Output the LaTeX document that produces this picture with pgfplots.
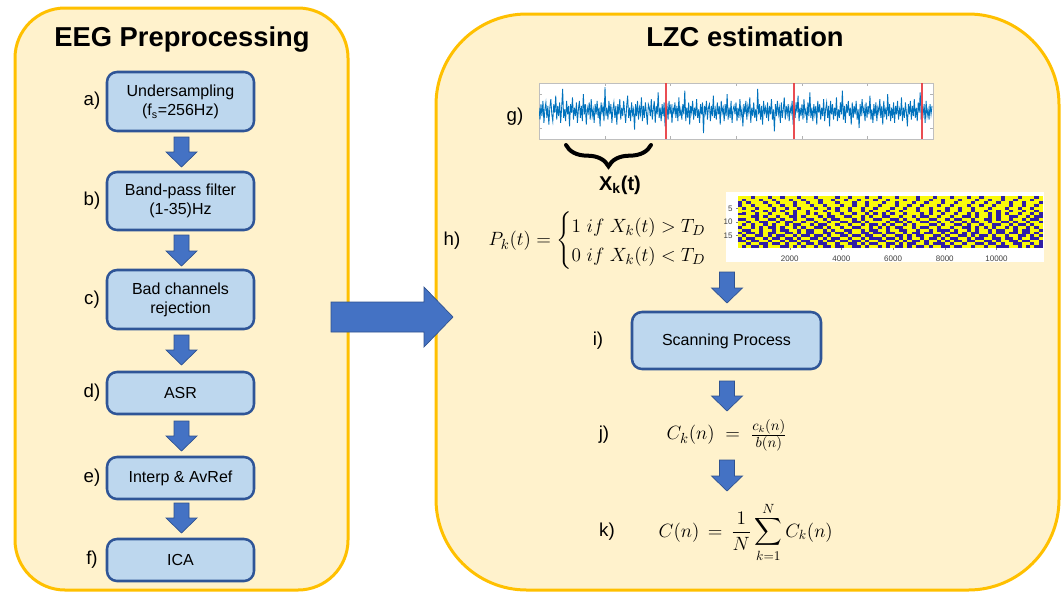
\documentclass[border=0pt]{standalone}
\usepackage{amsmath}
\usepackage[no-math]{fontspec}
\setmainfont{Liberation Sans}
\usepackage{pgfplots}
\pgfplotsset{compat=1.18}
\usetikzlibrary{decorations.pathreplacing}
\definecolor{panelfill}{RGB}{255,242,204}
\definecolor{paneldraw}{RGB}{255,192,0}
\definecolor{boxfill}{RGB}{189,215,238}
\definecolor{boxdraw}{RGB}{47,85,151}
\definecolor{arrowfill}{RGB}{68,114,196}
\definecolor{arrowdraw}{RGB}{47,82,143}
\definecolor{sigblue}{RGB}{0,114,189}
\definecolor{redline}{RGB}{232,58,64}
\pgfdeclareplotmark{cell}{\pgfpathrectangle{\pgfqpoint{-1.65pt}{-1.08pt}}{\pgfqpoint{3.3pt}{2.16pt}}\pgfusepathqfill}
\newcommand{\darrow}[3]{%
  \filldraw[fill=arrowfill, draw=arrowdraw, line width=0.5pt]
  ({#1-7.5},#2) -- ({#1+7.5},#2) -- ({#1+7.5},{#3-15}) -- ({#1+15.5},{#3-15}) --
  (#1,#3) -- ({#1-15.5},{#3-15}) -- ({#1-7.5},{#3-15}) -- cycle;}
\begin{document}
\begin{tikzpicture}
\begin{scope}[x=0.75pt,y=-0.75pt,
  box/.style={draw=boxdraw, line width=1.9pt, fill=boxfill, rounded corners=7.5pt},
  btxt/.style={font=\fontsize{12}{14.4}\selectfont, align=center},
  lbl/.style={font=\fontsize{14}{16}\selectfont},
  ttl/.style={font=\fontsize{20.5}{24}\selectfont\bfseries, anchor=base},
  mth/.style={font=\fontsize{14}{17}\selectfont}]
\path[use as bounding box] (0,0) rectangle (1064,594);
\fill[white] (0,0) rectangle (1064,594);
\coordinate (gpos) at (539,83);
\coordinate (hpos) at (738,196);
% panels
\draw[fill=panelfill, draw=paneldraw, line width=2.25pt, rounded corners=37.5pt] (15,8) rectangle (348,590);
\draw[fill=panelfill, draw=paneldraw, line width=2.25pt, rounded corners=68pt] (436,14) rectangle (1059,590);
\node[ttl] at (182,46) {EEG Preprocessing};
\node[ttl] at (745,46) {LZC estimation};
% left boxes
\draw[box] (107,72) rectangle (254,131);
\node[btxt] at (180.5,102) {Undersampling\\(f\textsubscript{s}=256Hz)};
\draw[box] (107,172) rectangle (254,230);
\node[btxt] at (180.5,201) {Band-pass filter\\(1-35)Hz};
\draw[box] (107,270) rectangle (254,329);
\node[btxt] at (180.5,300) {Bad channels\\rejection};
\draw[box] (107,372) rectangle (254,414);
\node[btxt] at (180.5,393) {ASR};
\draw[box] (107,457) rectangle (254,499);
\node[btxt] at (180.5,478) {Interp \& AvRef};
\draw[box] (107,539) rectangle (254,581);
\node[btxt] at (180.5,560) {ICA};
\node[lbl] at (92,101) {a)};
\node[lbl] at (92,201) {b)};
\node[lbl] at (92,300) {c)};
\node[lbl] at (92,393) {d)};
\node[lbl] at (92,478) {e)};
\node[lbl] at (92,560) {f)};
\darrow{181.5}{137}{167}
\darrow{181.5}{235}{266}
\darrow{181.5}{335}{365}
\darrow{181.5}{421}{451}
\darrow{181.5}{503}{533}
% big arrow
\filldraw[fill=arrowfill, draw=arrowdraw, line width=0.5pt]
  (331,302) -- (424,302) -- (424,287) -- (453,317) -- (424,347) -- (424,332) -- (331,332) -- cycle;
% right side
\node[lbl] at (515,117) {g)};
\draw[decorate, decoration={brace, amplitude=16pt}, line width=3pt, line cap=round] (651,145) -- (566,145);
\node[font=\fontsize{15}{17}\selectfont\bfseries] at (620,185) {X\textsubscript{k}(t)};
\node[lbl] at (452,241) {h)};
\node[mth, anchor=west, font=\fontsize{15}{18}\selectfont] at (484,241) {$P_k(t) = \begin{cases} 1\ if\ X_k(t) > T_D \\ 0\ if\ X_k(t) < T_D \end{cases}$};
\fill[white] (726,192) rectangle (1044,262);
\darrow{727}{272}{303}
\node[lbl] at (598,341) {i)};
\draw[box] (632,312) rectangle (821,369);
\node[btxt] at (726.5,341) {Scanning Process};
\darrow{727}{381}{411}
\node[lbl] at (604,435) {j)};
\node[mth, anchor=west, font=\fontsize{15}{18}\selectfont] at (662,435) {$C_k(n) \;=\; \frac{c_k(n)}{b(n)}$};
\darrow{727}{460}{491}
\node[lbl] at (607,532) {k)};
\node[mth, anchor=west] at (654,532) {$C(n) \,=\, \dfrac{1}{N}\displaystyle\sum_{k=1}^{N} C_k(n)$};
\end{scope}
\begin{axis}[at={(gpos)}, anchor=north west, width=295.5pt, height=42pt, scale only axis,
  xmin=0, xmax=6, ymin=-1.65, ymax=1.65, xtick={1,...,5}, ytick={-1,1},
  xticklabels={}, yticklabels={}, tick align=inside, major tick length=2.5pt,
  axis line style={gray!50, line width=0.6pt}, tick style={gray!60},
  axis background/.style={fill=white}]
\addplot[sigblue, line width=0.65pt] table[x expr=\coordindex*0.015, y index=0, header=false, row sep=\\] {
0.2\\-0.5\\0.4\\-0.3\\0.6\\-0.7\\0.1\\0.5\\-0.4\\0.3\\-0.8\\0.2\\0.7\\-0.2\\-0.6\\0.4\\-0.1\\0.9\\-0.5\\0.3\\
-0.3\\0.5\\-0.7\\0.2\\1.3\\-0.4\\0.1\\-0.6\\0.6\\-0.2\\0.3\\-0.9\\0.4\\-0.1\\0.8\\-0.5\\0.2\\-0.3\\0.5\\-0.7\\
0.1\\0.6\\-0.4\\0.3\\-0.6\\1.0\\-0.2\\0.4\\-0.8\\0.2\\-0.1\\0.5\\-0.5\\0.7\\-0.3\\0.1\\-0.7\\0.4\\-0.2\\0.6\\
-0.4\\0.2\\-0.9\\0.5\\-0.1\\0.3\\-0.6\\1.4\\-0.3\\0.2\\-0.5\\0.6\\-0.2\\0.4\\-0.7\\0.1\\0.5\\-0.4\\0.3\\-0.8\\
0.4\\-0.2\\0.7\\-0.5\\0.2\\-0.3\\0.6\\-0.1\\-0.7\\0.3\\0.9\\-0.4\\0.2\\-0.6\\0.5\\-0.2\\0.1\\-1.1\\0.4\\-0.3\\
0.6\\-0.5\\0.2\\-0.2\\0.8\\-0.6\\0.3\\-0.4\\0.5\\-0.1\\-0.8\\0.4\\0.2\\-0.3\\0.7\\-0.5\\0.1\\0.6\\-0.7\\0.3\\
-0.2\\1.1\\-0.4\\0.2\\-0.6\\0.4\\-0.3\\0.5\\-0.9\\0.1\\0.3\\-0.5\\0.6\\-0.2\\0.4\\-0.7\\0.2\\-0.1\\0.5\\-0.4\\
0.3\\-0.6\\0.8\\-0.3\\0.1\\-0.5\\0.4\\-0.2\\1.2\\-0.6\\0.2\\-0.4\\0.5\\-0.8\\0.3\\-0.1\\0.6\\-0.5\\0.2\\-0.3\\
0.7\\-0.4\\0.1\\-0.7\\0.4\\-0.2\\0.5\\-1.3\\0.3\\-0.1\\0.6\\-0.5\\0.2\\0.4\\-0.6\\0.3\\-0.3\\0.9\\-0.4\\0.1\\
-0.5\\0.5\\-0.2\\0.3\\-0.8\\0.6\\-0.1\\0.2\\-0.6\\0.4\\-0.3\\1.0\\-0.5\\0.2\\-0.4\\0.6\\-0.7\\0.1\\0.3\\-0.2\\
0.5\\-0.6\\0.2\\-0.4\\0.7\\-0.3\\0.1\\-0.9\\0.4\\-0.2\\0.6\\-0.5\\0.3\\-0.1\\0.8\\-0.7\\0.2\\-0.3\\0.5\\-0.4\\
0.1\\-0.6\\1.3\\-0.2\\0.4\\-0.5\\0.3\\-0.8\\0.6\\-0.1\\0.2\\-0.4\\0.5\\-0.6\\0.3\\-0.2\\0.7\\-0.5\\0.1\\-1.2\\
0.4\\-0.3\\0.6\\-0.2\\0.2\\-0.7\\0.5\\-0.4\\0.1\\0.8\\-0.5\\0.3\\-0.2\\0.4\\-0.6\\0.2\\-0.1\\0.6\\-0.8\\0.3\\
-0.4\\0.5\\-0.1\\0.9\\-0.6\\0.2\\-0.3\\0.4\\-0.5\\0.7\\-0.2\\0.1\\-0.7\\0.5\\-0.3\\1.1\\-0.4\\0.2\\-0.6\\0.4\\
-0.2\\0.3\\-0.8\\0.6\\-0.1\\0.4\\-0.5\\0.2\\-0.3\\0.7\\-0.6\\0.1\\0.5\\-0.4\\0.3\\-0.9\\0.6\\-0.2\\0.4\\-0.5\\
0.2\\-0.3\\0.8\\-0.6\\0.1\\-0.4\\0.5\\-0.2\\1.2\\-0.5\\0.3\\-0.7\\0.4\\-0.1\\0.6\\-0.3\\0.2\\-0.8\\0.5\\-0.4\\
0.3\\-0.2\\0.6\\-0.5\\0.1\\-1.0\\0.4\\-0.3\\0.7\\-0.1\\0.2\\-0.6\\0.5\\-0.4\\0.3\\-0.2\\0.9\\-0.5\\0.1\\-0.7\\
0.4\\-0.3\\0.5\\-0.6\\0.2\\-0.1\\0.7\\-0.4\\0.3\\-0.8\\0.6\\-0.2\\0.1\\-0.5\\1.0\\-0.3\\0.4\\-0.6\\0.2\\-0.4\\
0.5\\-0.7\\0.3\\-0.2\\0.6\\-0.5\\0.1\\-0.3\\0.8\\-0.6\\0.2\\-0.4\\0.5\\-0.1\\-0.9\\0.4\\-0.2\\0.6\\-0.5\\0.3\\
-0.3\\0.7\\-0.4\\0.2\\-0.6\\0.5\\-0.1\\1.1\\-0.5\\0.3\\-0.2\\0.4\\-0.7\\0.6\\-0.3\\0.1\\-0.5\\0.4\\-0.2\\0.3\\
};
\addplot[redline, line width=1.5pt, opacity=0.9] coordinates {(1.93,-1.65) (1.93,1.65)};
\addplot[redline, line width=1.5pt, opacity=0.9] coordinates {(3.88,-1.65) (3.88,1.65)};
\addplot[redline, line width=1.5pt, opacity=0.9] coordinates {(5.83,-1.65) (5.83,1.65)};
\end{axis}
\begin{axis}[at={(hpos)}, anchor=north west, width=228.75pt, height=39pt, scale only axis,
  xmin=0, xmax=11800, ymin=0.5, ymax=19.5, y dir=reverse, enlargelimits=false,
  xtick={2000,4000,6000,8000,10000}, ytick={5,10,15},
  ticklabel style={font=\fontsize{6}{7}\selectfont, text=black!75},
  /pgf/number format/assume math mode=true, /pgf/number format/set thousands separator={},
  scaled x ticks=false, axis line style={draw=none}, tick style={gray, line width=0.3pt},
  major tick length=1.5pt, tick align=outside, xtick pos=bottom, ytick pos=left,
  xticklabel style={yshift=-1pt}, yticklabel style={xshift=1pt},
  axis background/.style={fill={rgb,255:red,48;green,30;blue,165}},
  colormap={yb}{rgb255=(48,30,165) rgb255=(250,250,12)}, point meta min=0, point meta max=1]
\addplot[scatter, only marks, mark=cell, point meta=explicit,
  scatter/use mapped color={fill=mapped color, draw=none}]
  table[x expr={(mod(\coordindex,72)+0.5)*11800/72}, y expr={floor(\coordindex/72)+1}, meta index=0, header=false, row sep=\\] {
1\\1\\1\\0\\1\\1\\1\\0\\1\\1\\0\\1\\1\\1\\0\\1\\1\\1\\0\\1\\1\\1\\1\\0\\1\\1\\0\\1\\1\\1\\0\\1\\1\\0\\1\\1\\1\\0\\1\\1\\1\\1\\0\\1\\1\\1\\0\\1\\1\\1\\0\\1\\1\\1\\0\\1\\1\\0\\1\\1\\1\\1\\0\\1\\1\\1\\0\\1\\1\\1\\0\\1\\
1\\0\\1\\1\\1\\0\\1\\1\\0\\1\\1\\1\\0\\1\\1\\0\\1\\1\\1\\0\\1\\1\\0\\1\\1\\0\\1\\1\\0\\1\\1\\1\\0\\1\\1\\0\\1\\1\\1\\0\\1\\1\\0\\1\\1\\0\\1\\1\\0\\1\\1\\1\\0\\1\\1\\1\\0\\1\\1\\0\\1\\1\\0\\1\\1\\0\\1\\1\\1\\0\\1\\1\\
1\\1\\0\\1\\1\\1\\0\\1\\1\\0\\1\\1\\1\\0\\1\\1\\0\\1\\1\\0\\1\\1\\1\\0\\1\\1\\1\\0\\1\\1\\0\\1\\1\\1\\0\\1\\1\\0\\1\\1\\1\\0\\1\\1\\0\\1\\1\\1\\0\\1\\1\\0\\1\\1\\1\\0\\1\\1\\0\\1\\1\\0\\1\\1\\0\\1\\1\\0\\1\\1\\1\\0\\
0\\1\\1\\0\\1\\1\\1\\0\\1\\1\\0\\1\\1\\0\\1\\1\\1\\0\\1\\1\\0\\1\\1\\1\\0\\1\\1\\0\\1\\1\\0\\1\\1\\0\\1\\1\\1\\0\\1\\1\\0\\1\\1\\0\\1\\1\\1\\0\\1\\1\\0\\1\\1\\1\\0\\1\\1\\0\\1\\1\\0\\1\\1\\1\\0\\1\\1\\0\\1\\1\\0\\1\\
1\\0\\1\\1\\0\\1\\1\\1\\0\\1\\1\\0\\1\\1\\0\\1\\1\\1\\0\\1\\1\\0\\1\\0\\1\\1\\0\\1\\1\\0\\1\\1\\0\\1\\1\\1\\0\\1\\1\\0\\1\\1\\0\\1\\1\\0\\1\\1\\1\\0\\1\\1\\0\\1\\1\\0\\1\\1\\1\\0\\1\\1\\1\\0\\1\\1\\0\\1\\1\\0\\1\\1\\0\\
1\\1\\0\\1\\1\\0\\1\\0\\1\\0\\1\\1\\0\\1\\1\\0\\1\\1\\1\\0\\1\\1\\0\\1\\1\\0\\1\\1\\0\\1\\0\\1\\1\\1\\0\\1\\1\\0\\1\\1\\1\\0\\1\\1\\0\\1\\0\\1\\0\\1\\1\\0\\1\\1\\0\\1\\1\\0\\1\\1\\0\\1\\1\\0\\1\\1\\0\\1\\1\\0\\1\\1\\
0\\1\\1\\0\\1\\1\\0\\1\\1\\1\\0\\1\\0\\1\\1\\0\\1\\0\\1\\1\\0\\1\\1\\0\\1\\1\\0\\1\\1\\0\\1\\0\\1\\0\\1\\0\\1\\1\\0\\1\\1\\1\\0\\1\\0\\1\\1\\0\\1\\1\\0\\1\\1\\0\\1\\0\\1\\1\\0\\1\\0\\1\\0\\1\\1\\0\\1\\1\\0\\1\\0\\1\\
1\\1\\0\\0\\1\\0\\1\\1\\0\\1\\1\\0\\0\\1\\0\\1\\1\\1\\0\\1\\0\\0\\1\\1\\0\\0\\1\\1\\0\\1\\0\\1\\1\\0\\0\\1\\1\\0\\1\\1\\0\\1\\0\\0\\1\\1\\0\\1\\1\\0\\1\\1\\0\\0\\1\\0\\1\\1\\0\\1\\0\\1\\1\\0\\0\\1\\1\\0\\1\\0\\0\\1\\
0\\1\\1\\0\\1\\1\\0\\0\\1\\0\\1\\1\\0\\1\\1\\0\\0\\1\\1\\0\\1\\0\\0\\1\\1\\1\\0\\1\\0\\1\\1\\0\\0\\1\\1\\0\\0\\1\\0\\1\\1\\0\\1\\1\\0\\0\\1\\1\\0\\1\\0\\0\\1\\1\\0\\1\\1\\0\\0\\1\\0\\1\\1\\0\\1\\1\\0\\1\\0\\0\\1\\1\\
1\\0\\1\\1\\0\\0\\1\\1\\0\\1\\0\\0\\1\\1\\0\\1\\1\\0\\1\\1\\0\\1\\1\\0\\0\\1\\0\\0\\1\\0\\1\\1\\1\\1\\0\\1\\0\\0\\1\\0\\1\\1\\0\\0\\1\\1\\0\\1\\1\\0\\1\\1\\0\\1\\0\\0\\1\\1\\0\\1\\1\\0\\0\\1\\0\\1\\1\\0\\1\\1\\0\\0\\
0\\1\\0\\1\\1\\0\\1\\0\\1\\1\\0\\1\\0\\0\\1\\1\\0\\1\\0\\0\\1\\1\\0\\1\\1\\0\\1\\1\\0\\1\\0\\0\\1\\0\\1\\0\\1\\1\\0\\1\\0\\1\\1\\1\\0\\0\\1\\0\\1\\1\\0\\0\\1\\0\\1\\1\\0\\1\\1\\0\\0\\1\\1\\0\\1\\0\\0\\1\\0\\1\\1\\1\\
1\\1\\0\\1\\0\\1\\0\\0\\1\\0\\1\\1\\0\\1\\0\\1\\1\\0\\0\\1\\0\\1\\1\\0\\1\\1\\0\\0\\1\\1\\0\\1\\0\\1\\0\\1\\0\\0\\1\\1\\0\\1\\0\\0\\1\\1\\0\\1\\1\\0\\1\\1\\0\\0\\1\\0\\1\\0\\1\\0\\1\\1\\0\\1\\0\\1\\1\\0\\1\\0\\1\\0\\
0\\0\\1\\1\\0\\1\\1\\0\\1\\0\\0\\1\\1\\0\\1\\0\\0\\1\\1\\0\\1\\0\\1\\1\\0\\0\\1\\1\\0\\1\\0\\0\\1\\1\\0\\1\\1\\0\\0\\1\\1\\0\\1\\1\\0\\1\\0\\0\\0\\1\\0\\1\\1\\0\\1\\0\\1\\1\\0\\1\\0\\0\\1\\1\\0\\1\\0\\0\\1\\1\\0\\1\\
1\\0\\0\\1\\0\\1\\0\\0\\1\\1\\0\\0\\1\\0\\1\\0\\0\\1\\1\\0\\0\\1\\0\\0\\1\\0\\1\\1\\0\\0\\1\\0\\0\\1\\0\\0\\1\\1\\0\\1\\0\\0\\1\\0\\0\\1\\1\\0\\1\\0\\0\\1\\0\\1\\0\\0\\1\\1\\0\\1\\0\\0\\1\\0\\0\\1\\0\\0\\1\\0\\1\\1\\
0\\1\\1\\0\\0\\1\\0\\1\\0\\0\\1\\1\\0\\1\\0\\0\\1\\0\\0\\1\\0\\1\\1\\0\\0\\1\\0\\0\\1\\0\\0\\1\\1\\0\\1\\1\\0\\0\\1\\0\\1\\0\\0\\1\\1\\0\\0\\1\\0\\1\\1\\0\\0\\1\\0\\1\\0\\0\\1\\0\\1\\1\\0\\1\\1\\0\\0\\1\\0\\1\\0\\0\\
1\\0\\0\\1\\1\\0\\1\\0\\0\\1\\0\\0\\1\\0\\1\\1\\0\\0\\1\\0\\1\\0\\0\\1\\1\\0\\1\\1\\0\\1\\0\\0\\0\\1\\0\\0\\1\\0\\1\\0\\1\\1\\0\\1\\0\\0\\1\\0\\1\\0\\0\\1\\1\\0\\1\\0\\0\\1\\1\\0\\0\\1\\0\\0\\1\\0\\1\\1\\0\\0\\1\\0\\
0\\1\\0\\0\\1\\1\\0\\1\\1\\0\\1\\0\\0\\1\\0\\0\\1\\1\\0\\1\\0\\0\\1\\0\\0\\1\\0\\0\\1\\0\\1\\1\\0\\0\\1\\1\\0\\1\\0\\1\\0\\0\\1\\0\\1\\1\\0\\1\\0\\1\\0\\0\\1\\0\\0\\1\\1\\0\\0\\1\\0\\1\\1\\0\\0\\1\\0\\0\\1\\1\\0\\1\\
1\\0\\1\\1\\0\\0\\1\\0\\0\\1\\0\\1\\1\\0\\1\\0\\0\\1\\0\\0\\1\\1\\0\\1\\1\\0\\0\\1\\0\\1\\0\\0\\1\\1\\0\\0\\1\\0\\1\\0\\0\\1\\1\\0\\1\\0\\0\\0\\1\\0\\1\\1\\0\\1\\1\\0\\0\\1\\0\\0\\1\\0\\1\\1\\0\\0\\1\\1\\0\\1\\0\\0\\
0\\1\\0\\0\\1\\0\\1\\1\\1\\0\\0\\1\\0\\1\\0\\1\\1\\0\\1\\0\\0\\1\\0\\0\\1\\1\\0\\0\\1\\0\\1\\1\\0\\1\\0\\1\\0\\0\\1\\0\\1\\0\\0\\1\\0\\1\\1\\0\\0\\1\\0\\0\\1\\1\\0\\1\\1\\0\\1\\1\\0\\0\\0\\1\\1\\0\\1\\0\\1\\0\\0\\1\\
};
\end{axis}
\end{tikzpicture}
\end{document}
